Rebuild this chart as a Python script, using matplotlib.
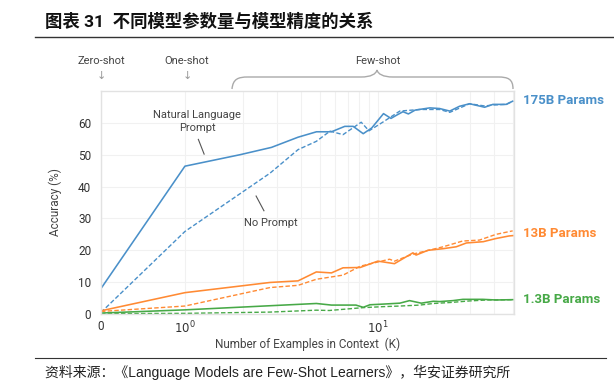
import numpy as np
import matplotlib
matplotlib.use("Agg")
import matplotlib.pyplot as plt
from matplotlib.path import Path
from matplotlib.patches import PathPatch
from matplotlib.transforms import Affine2D

plt.rcParams['font.family'] = ['Roboto', 'Noto Sans CJK SC', 'DejaVu Sans']

# 175B params
k_175_nl = [0, 1, 1.93, 2.81, 3.86, 4.81, 5.75, 6.74, 7.45, 8.4, 9.3, 10.7, 11.7,
            12.5, 13.5, 14.4, 15.6, 18.6, 20.9, 23.6, 26.5, 29.9, 35.8, 39.5, 46.3, 50]
acc_175_nl = [8.0, 46.4, 50.0, 52.3, 55.5, 57.2, 57.2, 58.9, 58.9, 56.6, 58.4, 62.9, 61.4,
              62.4, 63.5, 62.8, 64.0, 64.7, 64.5, 63.7, 65.2, 66.0, 64.9, 65.8, 65.8, 66.8]
k_175_np = [0, 1, 2.76, 3.86, 4.8, 5.65, 6.6, 8.2, 9.0, 10.6, 13, 16.5, 20.9, 23.6,
            29.9, 35.8, 39.5, 46.3, 50]
acc_175_np = [0.5, 25.9, 44.2, 51.6, 54.2, 57.4, 56.3, 60.2, 57.5, 60.2, 63.7, 64.2, 64.2, 63.3,
              66.0, 65.3, 65.6, 65.8, 66.8]

# 13B params
k_13_nl = [0, 1, 2.76, 3.86, 4.8, 5.75, 6.6, 8.1, 10.0, 12.2, 15.2, 15.8, 18.2, 21.8,
           25.5, 28.8, 35.2, 41, 47.9, 50]
acc_13_nl = [1.0, 6.7, 9.9, 10.4, 13.2, 12.9, 14.5, 14.6, 16.6, 15.8, 19.2, 18.5, 20.0, 20.5,
             21.1, 22.3, 22.7, 23.7, 24.5, 24.6]
k_13_np = [0, 1, 2.76, 3.86, 4.8, 6.6, 8.1, 11.5, 12.2, 15.2, 21.8, 27.5, 33.6, 41, 50]
acc_13_np = [0.8, 2.5, 8.3, 9.0, 10.9, 12.2, 15.0, 17.2, 16.6, 18.8, 21.1, 22.9, 23.2, 25.0, 26.1]

# 1.3B params
k_1b_nl = [0, 1, 4.8, 5.75, 7.7, 8.4, 9.1, 10.6, 13, 14.6, 16.8, 19.4, 20.9, 24.5,
           27.6, 35, 41, 50]
acc_1b_nl = [0.3, 1.3, 3.3, 2.8, 2.8, 2.1, 2.9, 3.1, 3.4, 4.2, 3.4, 4.0, 3.9, 4.2,
             4.6, 4.6, 4.4, 4.5]
k_1b_np = [0, 1, 2.76, 4.8, 5.6, 8.4, 10.6, 13, 16.5, 19.4, 23.6, 29.9, 36.6, 50]
acc_1b_np = [0.1, 0.2, 0.6, 1.2, 1.1, 2.0, 2.3, 2.5, 2.8, 3.3, 3.6, 4.1, 4.4, 4.5]

series = [
    (k_175_nl, acc_175_nl, k_175_np, acc_175_np, '#4a90c9', '175B Params', 67.0),
    (k_13_nl, acc_13_nl, k_13_np, acc_13_np, '#ff8a33', '13B Params', 25.2),
    (k_1b_nl, acc_1b_nl, k_1b_np, acc_1b_np, '#47a947', '1.3B Params', 4.4),
]

GAP = 0.435  # width of the 0..1 segment, in decades


def fwd(x):
    x = np.asarray(x, dtype=float)
    return np.where(x >= 1, np.log10(np.maximum(x, 1)), (x - 1) * GAP)


def inv(y):
    y = np.asarray(y, dtype=float)
    return np.where(y >= 0, 10 ** np.clip(y, 0, 10), y / GAP + 1)


W, H = 614, 385
fig = plt.figure(figsize=(W / 100, H / 100), dpi=100)
ax = fig.add_axes([101 / W, 1 - 314 / H, 412.5 / W, 223 / H])
ax.set_xscale('function', functions=(fwd, inv))

for kn, an, kp, ap, col, lab, ylab in series:
    ax.plot(kn, an, color=col, lw=1.15, solid_joinstyle='round')
    ax.plot(kp, ap, color=col, lw=1.0, ls=(0, (3.2, 1.6)))
    ax.text(1.023, ylab, lab, transform=ax.get_yaxis_transform(), color=col,
            fontsize=9.5, fontweight='bold', va='center', ha='left')

ax.set_xlim(0, 50.5)
ax.set_ylim(0, 70)
ax.set_xticks([0, 1, 10], labels=['0', r'$10^0$', r'$10^1$'])
ax.set_xticks([2, 3, 4, 5, 6, 7, 8, 9, 20, 30, 40, 50], minor=True)
ax.xaxis.set_minor_formatter(plt.NullFormatter())
ax.set_yticks([0, 10, 20, 30, 40, 50, 60])
ax.tick_params(which='both', length=0, labelsize=8.5, labelcolor='#333333')
ax.tick_params(axis='y', pad=7)
ax.tick_params(axis='x', pad=4)
ax.grid(which='both', color='#f1f1f1', lw=0.8)
ax.set_axisbelow(True)
for s in ax.spines.values():
    s.set_color('#e2e2e2')
    s.set_linewidth(1.0)

ax.set_ylabel('Accuracy (%)', fontsize=8.5, color='#444444')
ax.yaxis.set_label_coords(-0.095, 0.5)
ax.set_xlabel('Number of Examples in Context  (K)', fontsize=8.5, color='#444444')
ax.xaxis.set_label_coords(0.5, -0.105)

# in-plot annotations
ax.text(0.233, 0.865, 'Natural Language\nPrompt', transform=ax.transAxes, ha='center',
        va='center', fontsize=8, color='#444444', linespacing=1.35)
ax.plot([0.236, 0.250], [0.783, 0.717], transform=ax.transAxes, color='#555555', lw=0.8)
ax.text(0.411, 0.409, 'No Prompt', transform=ax.transAxes, ha='center', va='center',
        fontsize=8, color='#444444')
ax.plot([0.376, 0.395], [0.529, 0.463], transform=ax.transAxes, color='#555555', lw=0.8)

# pixel-space transform for header decorations
px = Affine2D().scale(1 / W, -1 / H).translate(0, 1) + fig.transFigure

for x, s in [(101, 'Zero-shot'), (187, 'One-shot'), (378, 'Few-shot')]:
    fig.text(x, 61, s, transform=px, ha='center', va='center', fontsize=8, color='#444444')
for x in (101, 187):
    fig.text(x, 76, '↓', transform=px, ha='center', va='center', fontsize=8,
             color='#999999', family='DejaVu Sans')

verts = [(232, 89), (233, 79), (238, 77), (248, 77), (361, 77),
         (371, 77), (376, 74), (377, 70), (378, 74), (383, 77), (393, 77),
         (498, 77), (508, 77), (513, 79), (513, 89)]
codes = [Path.MOVETO, Path.CURVE4, Path.CURVE4, Path.CURVE4, Path.LINETO,
         Path.CURVE4, Path.CURVE4, Path.CURVE4, Path.CURVE4, Path.CURVE4, Path.CURVE4,
         Path.LINETO, Path.CURVE4, Path.CURVE4, Path.CURVE4]
fig.patches.append(PathPatch(Path(verts, codes), transform=px, fill=False,
                             edgecolor='#aaaaaa', lw=1.0))

# title, rules and source
fig.text(45, 21, '图表 31  不同模型参数量与模型精度的关系', transform=px, ha='left', va='center',
         fontsize=12.5, fontweight='bold', color='#111111')
fig.add_artist(plt.Line2D([35, 614], [37, 37], transform=px, color='#333333', lw=1.0))
fig.add_artist(plt.Line2D([35, 606], [358, 358], transform=px, color='#333333', lw=0.8))
fig.text(45, 372, '资料来源：《Language Models are Few-Shot Learners》，华安证券研究所',
         transform=px, ha='left', va='center', fontsize=10, color='#222222',
         family=['Liberation Sans', 'Noto Sans CJK SC'])

fig.savefig('out.png', dpi=100)
